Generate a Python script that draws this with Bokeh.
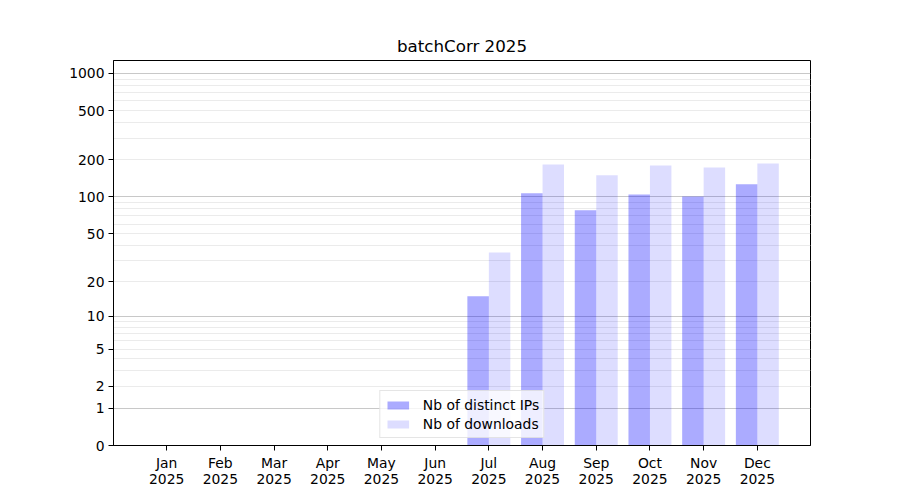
import numpy as np
from bokeh.plotting import figure
from bokeh.models import (ColumnDataSource, FixedTicker, Grid, Range1d,
                          CustomJSTickFormatter, Legend, LegendItem)
from bokeh.embed import file_html
from bokeh.resources import INLINE

title = "batchCorr 2025"
months = ["Jan", "Feb", "Mar", "Apr", "May", "Jun",
          "Jul", "Aug", "Sep", "Oct", "Nov", "Dec"]
year = "2025"
ips = [0, 0, 0, 0, 0, 0, 15, 107, 78, 105, 101, 127]
downloads = [0, 0, 0, 0, 0, 0, 35, 184, 150, 180, 174, 187]
y_ticks = [0, 1, 2, 5, 10, 20, 50, 100, 200, 500, 1000]
major_grid = [1, 10, 100, 1000]
minor_grid = [2, 3, 4, 5, 6, 7, 8, 9, 20, 30, 40, 50, 60, 70, 80, 90,
              200, 300, 400, 500, 600, 700, 800, 900]
series_labels = ["Nb of distinct IPs", "Nb of downloads"]


def tr(v):
    # symlog-like transform used by the reference axis: log10(1 + v)
    return np.log10(1.0 + np.asarray(v, dtype=float))


FONT = "DejaVu Sans"
idx = np.arange(len(months))
src = ColumnDataSource(dict(
    x_ip=idx - 0.2, x_dl=idx + 0.2,
    top_ip=tr(ips), top_dl=tr(downloads),
))

p = figure(width=892, height=492, output_backend="svg", toolbar_location=None,
           x_range=Range1d(-0.99, 11.99), y_range=Range1d(0, 3.105),
           min_border_left=113, min_border_right=82,
           min_border_top=60, min_border_bottom=47)

p.title.text = title
p.title.align = "center"
p.title.text_font = FONT
p.title.text_font_size = "16.7px"
p.title.text_font_style = "normal"
p.title.text_color = "black"

p.xgrid.visible = False
p.ygrid.visible = False
p.add_layout(Grid(dimension=1, ticker=FixedTicker(ticks=list(tr(minor_grid))),
                  grid_line_color="#ebebeb", grid_line_width=1))
p.add_layout(Grid(dimension=1, ticker=FixedTicker(ticks=list(tr(major_grid))),
                  grid_line_color="#c8c8c8", grid_line_width=1))

r_ip = p.vbar(x="x_ip", top="top_ip", bottom=0, width=0.4, source=src,
              fill_color="blue", fill_alpha=0.33, line_color=None)
r_dl = p.vbar(x="x_dl", top="top_dl", bottom=0, width=0.4, source=src,
              fill_color="blue", fill_alpha=0.135, line_color=None)

# axes
p.xaxis.ticker = FixedTicker(ticks=list(idx))
p.xaxis.major_label_overrides = {int(i): f"{m}\n{year}" for i, m in zip(idx, months)}
p.xaxis.major_label_text_line_height = 1.0
p.yaxis.ticker = FixedTicker(ticks=list(tr(y_ticks)))
p.yaxis.formatter = CustomJSTickFormatter(
    code="return String(Math.round(Math.pow(10, tick) - 1));")
for ax in (p.xaxis, p.yaxis):
    ax.axis_line_color = "black"
    ax.axis_line_width = 1
    ax.major_tick_line_color = "black"
    ax.major_tick_out = 5
    ax.major_tick_in = 0
    ax.minor_tick_out = 0
    ax.minor_tick_in = 0
    ax.major_label_text_font = FONT
    ax.major_label_text_font_size = "13.9px"
    ax.major_label_text_color = "black"
p.xaxis.major_label_standoff = 4
p.yaxis.major_label_standoff = 4
p.outline_line_color = "black"
p.outline_line_alpha = 1
p.outline_line_width = 1

legend = Legend(items=[LegendItem(label=series_labels[0], renderers=[r_ip]),
                       LegendItem(label=series_labels[1], renderers=[r_dl])],
                location="bottom_center", orientation="vertical")
legend.margin = 7
legend.padding = 4
legend.spacing = 0
legend.glyph_width = 27
legend.glyph_height = 10
legend.label_height = 19
legend.label_standoff = 12
legend.label_text_font = FONT
legend.label_text_font_size = "13.9px"
legend.label_text_color = "black"
legend.border_line_color = "#cccccc"
legend.border_line_width = 1
legend.background_fill_color = "white"
legend.background_fill_alpha = 0.8
p.add_layout(legend, "center")

open("out.html", "w").write(file_html(p, INLINE))
